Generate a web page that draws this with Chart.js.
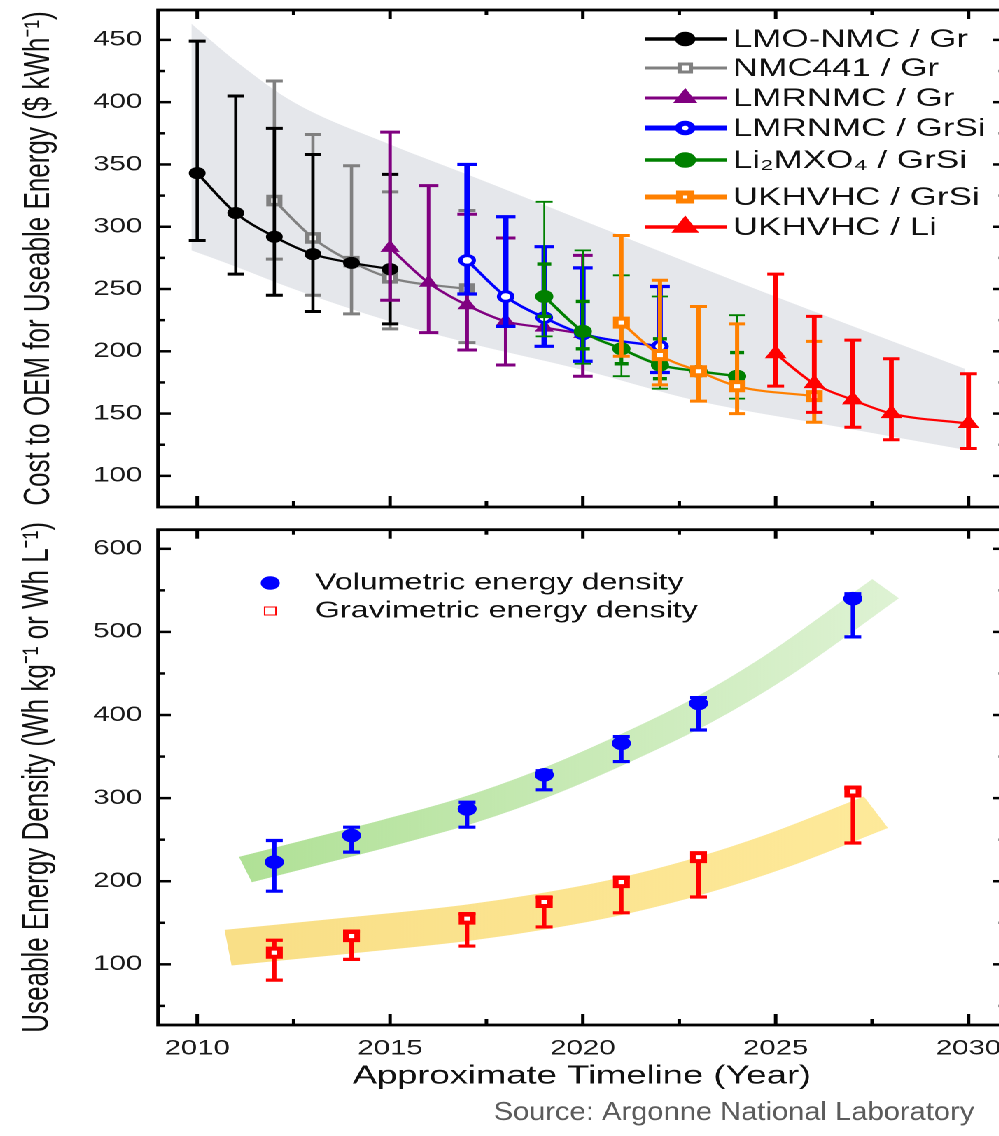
<!DOCTYPE html>
<html>
<head>
<meta charset="utf-8">
<script src="https://cdn.jsdelivr.net/npm/chart.js@4.4.1/dist/chart.umd.min.js"></script>
<style>
  html, body { margin: 0; padding: 0; background: #fff; overflow: hidden; width: 999px; height: 1136px; }
  /* the figure is drawn narrow and stretched sideways, like the source image */
  #wrap { position: absolute; left: 0; top: 0; width: 728px; height: 1136px; transform: scaleX(1.4); transform-origin: 0 0; }
  #topChart { position: absolute; left: 0; top: 0; }
  #botChart { position: absolute; left: 0; top: 520px; }
</style>
</head>
<body>
<div id="wrap">
  <canvas id="topChart" width="728" height="520"></canvas>
  <canvas id="botChart" width="728" height="616"></canvas>
</div>
<script>
// ---------- data ----------
const yearTicks = [2010, 2015, 2020, 2025, 2030];
const yearMinorTicks = [2012.5, 2017.5, 2022.5, 2027.5];
const costTicks = [100, 150, 200, 250, 300, 350, 400, 450];
const densityTicks = [100, 200, 300, 400, 500, 600];

const seriesNames = ['LMO-NMC / Gr', 'NMC441 / Gr', 'LMRNMC / Gr', 'LMRNMC / GrSi',
  'Li\u2082MXO\u2084 / GrSi', 'UKHVHC / GrSi', 'UKHVHC / Li'];

const lmoYears = [2010, 2011, 2012, 2013, 2014, 2015];
const lmoCost = [343, 311, 292, 278, 271, 266];
const lmoLow = [289, 262, 245, 232, null, 222];
const lmoHigh = [449, 405, 379, 358, null, 342];

const nmcYears = [2012, 2013, 2014, 2015, 2017];
const nmcCost = [321, 291, 272, 259, 250];
const nmcLow = [274, 245, 230, 218, 207];
const nmcHigh = [417, 374, 349, 328, 313];

const lmrGrYears = [2015, 2016, 2017, 2018, 2019, 2020];
const lmrGrCost = [283, 255, 237, 224, 219, 214];
const lmrGrLow = [241, 215, 201, 189, null, 180];
const lmrGrHigh = [376, 333, 310, 291, null, 277];

const lmrSiYears = [2017, 2018, 2019, 2020, 2022];
const lmrSiCost = [273, 244, 227, 214, 204];
const lmrSiLow = [246, 220, 204, 192, 183];
const lmrSiHigh = [350, 308, 284, 267, 252];

const mxoYears = [2019, 2020, 2021, 2022, 2023, 2024];
const mxoCost = [244, 216, 202, 189, 184, 180];
const mxoLow = [212, 190, 180, 170, null, 162];
const mxoHigh = [320, 281, 261, 244, null, 229];
const mxoInnerLow = [228, 202, 190, 178, null, 170];
const mxoInnerHigh = [270, 240, 222, 210, null, 199];

const ukSiYears = [2021, 2022, 2023, 2024, 2026];
const ukSiCost = [223, 197, 184, 172, 164];
const ukSiLow = [196, 173, 160, 150, 143];
const ukSiHigh = [293, 257, 236, 222, 208];

const ukLiYears = [2025, 2026, 2027, 2028, 2030];
const ukLiCost = [198, 174, 161, 150, 142];
const ukLiLow = [172, 151, 139, 129, 122];
const ukLiHigh = [262, 228, 209, 194, 182];

// grey cost envelope
const bandYears = [2009.85, 2011, 2012.5, 2015, 2017, 2020, 2023, 2026.5, 2029.9];
const bandUpper = [463, 433, 400, 366, 342, 305, 268, 226, 186];
const bandLower = [281, 268, 250, 224, 207, 185, 160, 140, 121];

const densityNames = ['Volumetric energy density', 'Gravimetric energy density'];
const densityYears = [2012, 2014, 2017, 2019, 2021, 2023, 2027];
const volDensity = [223, 255, 287, 328, 366, 414, 540];
const volLow = [188, 235, 265, 310, 344, 382, 494];
const volHigh = [249, 265, 295, 333, 374, 421, 546];
const gravDensity = [114, 134, 155, 175, 199, 229, 308];
const gravLow = [81, 106, 122, 145, 162, 181, 246];
const gravHigh = [129, 140, 161, 181, 205, 232, 312];

// trend ribbons in the lower panel
const volTrendYears = [2011.25, 2013, 2015, 2017, 2019, 2021, 2023, 2025, 2027.85];
const volTrend = [214, 235, 259, 285, 318, 358, 403, 458, 552];
const gravTrendYears = [2010.8, 2014, 2017, 2019, 2021, 2023, 2025, 2027.6];
const gravTrend = [120, 135, 150, 164, 182, 206, 236, 283];

// ---------- helpers ----------
const FONT = "'Liberation Sans', Arial, sans-serif";
const X_MIN = 2008.99, X_MAX = 2030.96;

function pts(xs, ys) {
  return xs.map((x, i) => ({ x: x, y: ys[i] }));
}

function midTicks(major, min, max) {
  const step = major[1] - major[0];
  const out = [];
  for (let v = major[0] - step / 2; v <= max; v += step) {
    if (v > min && v < max) out.push(v);
  }
  return out;
}

const errorBarPlugin = {
  id: 'errorBars',
  beforeDatasetDraw(chart, args) {
    const ds = chart.data.datasets[args.index];
    if (!ds.bars) return;
    const ctx = chart.ctx, x = chart.scales.x, y = chart.scales.y;
    ctx.save();
    ctx.strokeStyle = ds.borderColor;
    ds.bars.forEach(b => {
      ds.data.forEach((p, i) => {
        const lo = b.low[i], hi = b.high[i];
        if (lo == null && hi == null) return;
        const px = x.getPixelForValue(p.x);
        const yl = y.getPixelForValue(lo == null ? p.y : lo);
        const yh = y.getPixelForValue(hi == null ? p.y : hi);
        ctx.lineWidth = b.width;
        ctx.beginPath(); ctx.moveTo(px, yl); ctx.lineTo(px, yh); ctx.stroke();
        ctx.lineWidth = b.capWidth;
        ctx.beginPath();
        if (lo != null) { ctx.moveTo(px - b.cap, yl); ctx.lineTo(px + b.cap, yl); }
        if (hi != null) { ctx.moveTo(px - b.cap, yh); ctx.lineTo(px + b.cap, yh); }
        ctx.stroke();
      });
    });
    ctx.restore();
  }
};

const framePlugin = {
  id: 'frame',
  afterDraw(chart, args, opts) {
    const ctx = chart.ctx, a = chart.chartArea;
    const x = chart.scales.x, y = chart.scales.y;
    const seg = (x1, y1, x2, y2) => { ctx.beginPath(); ctx.moveTo(x1, y1); ctx.lineTo(x2, y2); ctx.stroke(); };
    ctx.save();
    ctx.strokeStyle = '#000';
    ctx.lineWidth = 2.8;
    ctx.strokeRect(a.left, a.top, a.right - a.left, a.bottom - a.top);
    ctx.lineWidth = 2.5;
    yearTicks.forEach(v => { const p = x.getPixelForValue(v); seg(p, a.bottom, p, a.bottom - 11); seg(p, a.top, p, a.top + 9); });
    yearMinorTicks.forEach(v => { const p = x.getPixelForValue(v); seg(p, a.bottom, p, a.bottom - 6); seg(p, a.top, p, a.top + 5); });
    opts.yMajor.forEach(v => { const p = y.getPixelForValue(v); seg(a.left, p, a.left + 9, p); seg(a.right, p, a.right - 9, p); });
    midTicks(opts.yMajor, y.min, y.max).forEach(v => { const p = y.getPixelForValue(v); seg(a.left, p, a.left + 5, p); seg(a.right, p, a.right - 5, p); });
    ctx.restore();
  }
};

function drawMarker(ctx, style, x, y) {
  ctx.fillStyle = style.fill;
  ctx.strokeStyle = style.color;
  Chart.helpers.drawPoint(ctx, { pointStyle: style.shape, radius: style.radius, borderWidth: style.borderWidth, rotation: 0 }, x, y);
}

// ---------- upper panel ----------
const topStyles = [
  { color: '#000000', fill: '#000000', shape: 'circle', radius: 5.5, borderWidth: 1, legendWidth: 3.5, rowY: 39 },
  { color: '#808080', fill: '#ffffff', shape: 'rect', radius: 5.7, borderWidth: 3.5, legendWidth: 3, rowY: 68 },
  { color: '#800080', fill: '#800080', shape: 'triangle', radius: 7, borderWidth: 1, legendWidth: 3, rowY: 98 },
  { color: '#0000ff', fill: '#ffffff', shape: 'circle', radius: 4.8, borderWidth: 3, legendWidth: 5, rowY: 128 },
  { color: '#008000', fill: '#008000', shape: 'circle', radius: 6, borderWidth: 1, legendWidth: 3.5, rowY: 160 },
  { color: '#ff8000', fill: '#ffffff', shape: 'rect', radius: 5.7, borderWidth: 4, legendWidth: 5, rowY: 197 },
  { color: '#ff0000', fill: '#ff0000', shape: 'triangle', radius: 8, borderWidth: 1, legendWidth: 3.5, rowY: 227 }
];

function costSeries(idx, xs, ys, bars, lineWidth) {
  const s = topStyles[idx];
  return {
    label: seriesNames[idx], data: pts(xs, ys), showLine: true,
    borderColor: s.color, backgroundColor: s.fill, borderWidth: lineWidth,
    pointStyle: s.shape, pointRadius: s.radius, pointBorderWidth: s.borderWidth,
    pointBackgroundColor: s.fill, pointBorderColor: s.color,
    cubicInterpolationMode: 'monotone', bars: bars
  };
}

const topLegendPlugin = {
  id: 'topLegend',
  afterDraw(chart) {
    const ctx = chart.ctx;
    ctx.save();
    ctx.font = '25px ' + FONT;
    ctx.textBaseline = 'middle';
    topStyles.forEach((s, i) => {
      ctx.strokeStyle = s.color;
      ctx.lineWidth = s.legendWidth;
      ctx.beginPath(); ctx.moveTo(461, s.rowY); ctx.lineTo(519, s.rowY); ctx.stroke();
      drawMarker(ctx, s, 489.5, s.rowY);
      ctx.fillStyle = '#111';
      ctx.fillText(seriesNames[i], 523.5, s.rowY + 1);
    });
    ctx.restore();
  }
};

new Chart(document.getElementById('topChart'), {
  type: 'scatter',
  data: {
    datasets: [
      costSeries(6, ukLiYears, ukLiCost, [{ low: ukLiLow, high: ukLiHigh, width: 3.4, cap: 6, capWidth: 3 }], 2.2),
      costSeries(5, ukSiYears, ukSiCost, [{ low: ukSiLow, high: ukSiHigh, width: 3, cap: 6, capWidth: 3 }], 2.2),
      costSeries(4, mxoYears, mxoCost, [
        { low: mxoLow, high: mxoHigh, width: 1.3, cap: 6, capWidth: 1.8 },
        { low: mxoInnerLow, high: mxoInnerHigh, width: 2.6, cap: 5, capWidth: 3.4 }], 2.4),
      costSeries(3, lmrSiYears, lmrSiCost, [{ low: lmrSiLow, high: lmrSiHigh, width: 4, cap: 7, capWidth: 3.2 }], 2.4),
      costSeries(2, lmrGrYears, lmrGrCost, [{ low: lmrGrLow, high: lmrGrHigh, width: 2.5, cap: 7, capWidth: 3 }], 2.2),
      costSeries(0, lmoYears, lmoCost, [{ low: lmoLow, high: lmoHigh, width: 2.3, cap: 6, capWidth: 3 }], 2.2),
      costSeries(1, nmcYears, nmcCost, [{ low: nmcLow, high: nmcHigh, width: 2.3, cap: 6, capWidth: 3 }], 2.2),
      { label: 'band low', data: pts(bandYears, bandLower), showLine: true, borderWidth: 0, pointRadius: 0, cubicInterpolationMode: 'monotone' },
      { label: 'band high', data: pts(bandYears, bandUpper), showLine: true, borderWidth: 0, pointRadius: 0, cubicInterpolationMode: 'monotone',
        fill: '-1', backgroundColor: '#e5e7eb' }
    ]
  },
  options: {
    responsive: false, animation: false, events: [], devicePixelRatio: 2,
    layout: { padding: { top: 10, right: 0, bottom: 13, left: 0 } },
    plugins: { legend: { display: false }, tooltip: { enabled: false }, frame: { yMajor: costTicks } },
    scales: {
      x: { type: 'linear', min: X_MIN, max: X_MAX, display: false },
      y: {
        type: 'linear', min: 75, max: 474,
        afterBuildTicks: s => { s.ticks = costTicks.map(v => ({ value: v })); },
        afterFit: s => { s.width = 113; s.paddingTop = 0; s.paddingBottom = 0; },
        grid: { display: false, drawTicks: false }, border: { display: false },
        ticks: { font: { family: FONT, size: 21 }, color: '#1a1a1a', padding: 11.5, callback: v => String(v) },
        title: { display: true, text: 'Cost to OEM for Useable Energy ($ kWh\u207B\u00B9)', color: '#111',
          font: { family: FONT, size: 26 }, padding: { top: 12 } }
      }
    }
  },
  plugins: [errorBarPlugin, framePlugin, topLegendPlugin]
});

// ---------- lower panel ----------
function ribbonColor(from, to) {
  return function (c) {
    const a = c.chart.chartArea;
    if (!a) return from;
    const g = c.chart.ctx.createLinearGradient(a.left, 0, a.right, 0);
    g.addColorStop(0.1, from);
    g.addColorStop(0.9, to);
    return g;
  };
}

const volStyle = { color: '#0000ff', fill: '#0000ff', shape: 'circle', radius: 6.3, borderWidth: 1 };
const gravStyle = { color: '#ff0000', fill: '#ffffff', shape: 'rect', radius: 5.7, borderWidth: 4 };

const botLegendPlugin = {
  id: 'botLegend',
  afterDraw(chart) {
    const ctx = chart.ctx;
    ctx.save();
    drawMarker(ctx, volStyle, 193, 63);
    drawMarker(ctx, gravStyle, 193, 91);
    ctx.font = '23px ' + FONT;
    ctx.textBaseline = 'middle';
    ctx.fillStyle = '#111';
    ctx.fillText(densityNames[0], 225, 63);
    ctx.fillText(densityNames[1], 225, 91);
    // condensed source line
    ctx.translate(696, 593);
    ctx.scale(0.8, 1);
    ctx.font = '26px ' + FONT;
    ctx.fillStyle = '#5c5c5c';
    ctx.textAlign = 'right';
    ctx.fillText('Source: Argonne National Laboratory', 0, 0);
    ctx.restore();
  }
};

new Chart(document.getElementById('botChart'), {
  type: 'scatter',
  data: {
    datasets: [
      { label: densityNames[0], data: pts(densityYears, volDensity), borderColor: volStyle.color,
        pointStyle: volStyle.shape, pointRadius: volStyle.radius, pointBackgroundColor: volStyle.fill,
        pointBorderColor: volStyle.color, pointBorderWidth: volStyle.borderWidth,
        bars: [{ low: volLow, high: volHigh, width: 3, cap: 6, capWidth: 3.2 }] },
      { label: densityNames[1], data: pts(densityYears, gravDensity), borderColor: gravStyle.color,
        pointStyle: gravStyle.shape, pointRadius: gravStyle.radius, pointBackgroundColor: gravStyle.fill,
        pointBorderColor: gravStyle.color, pointBorderWidth: gravStyle.borderWidth,
        bars: [{ low: gravLow, high: gravHigh, width: 3, cap: 6, capWidth: 3.2 }] },
      { label: 'volumetric trend', data: pts(volTrendYears, volTrend), showLine: true, pointRadius: 0,
        borderWidth: 27, borderCapStyle: 'butt', cubicInterpolationMode: 'monotone',
        borderColor: ribbonColor('rgb(176,225,150)', 'rgb(224,243,214)') },
      { label: 'gravimetric trend', data: pts(gravTrendYears, gravTrend), showLine: true, pointRadius: 0,
        borderWidth: 36, borderCapStyle: 'butt', cubicInterpolationMode: 'monotone',
        borderColor: ribbonColor('rgb(249,223,135)', 'rgb(254,234,155)') }
    ]
  },
  options: {
    responsive: false, animation: false, events: [], devicePixelRatio: 2,
    layout: { padding: { top: 9, right: 0, bottom: 0, left: 0 } },
    plugins: { legend: { display: false }, tooltip: { enabled: false }, frame: { yMajor: densityTicks } },
    scales: {
      x: {
        type: 'linear', min: X_MIN, max: X_MAX,
        afterBuildTicks: s => { s.ticks = yearTicks.map(v => ({ value: v })); },
        afterFit: s => { s.height = 111; s.paddingLeft = 0; s.paddingRight = 0; },
        grid: { display: false, drawTicks: false }, border: { display: false },
        ticks: { font: { family: FONT, size: 21 }, color: '#1a1a1a', padding: 11, maxRotation: 0, callback: v => String(v) },
        title: { display: true, text: 'Approximate Timeline (Year)', color: '#111',
          font: { family: FONT, size: 26 }, padding: { bottom: 44 } }
      },
      y: {
        type: 'linear', min: 27, max: 623,
        afterBuildTicks: s => { s.ticks = densityTicks.map(v => ({ value: v })); },
        afterFit: s => { s.width = 113; s.paddingTop = 0; s.paddingBottom = 0; },
        grid: { display: false, drawTicks: false }, border: { display: false },
        ticks: { font: { family: FONT, size: 21 }, color: '#1a1a1a', padding: 11.5, callback: v => String(v) },
        title: { display: true, text: 'Useable Energy Density (Wh kg\u207B\u00B9 or Wh L\u207B\u00B9)', color: '#111',
          font: { family: FONT, size: 26 }, padding: { top: 11 } }
      }
    }
  },
  plugins: [errorBarPlugin, framePlugin, botLegendPlugin]
});
</script>
</body>
</html>
